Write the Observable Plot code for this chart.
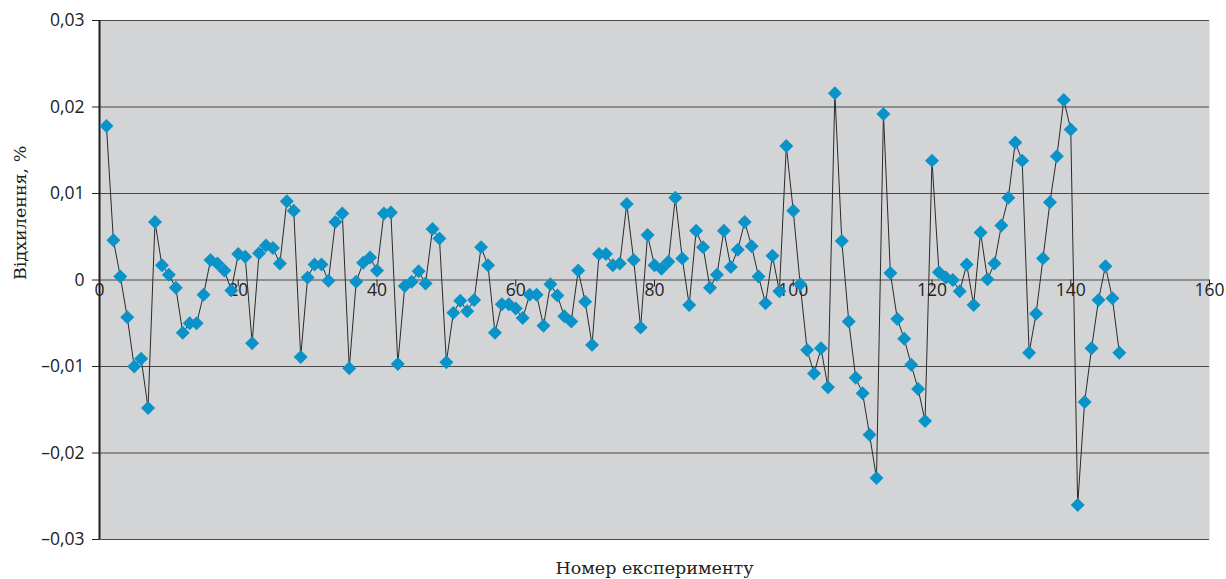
<!DOCTYPE html>
<html>
<head>
<meta charset="utf-8">
<script src="https://cdn.jsdelivr.net/npm/d3@7"></script>
<script src="https://cdn.jsdelivr.net/npm/@observablehq/plot@0.6"></script>
<style>
  html, body { margin: 0; padding: 0; background: #ffffff; }
  #chart svg { display: block; }
</style>
</head>
<body>
<div id="chart"></div>
<script>
// Deviation values for experiments 1..147
const deviations = [
  0.0178, 0.0046, 0.0004, -0.0043, -0.0100, -0.0091, -0.0148, 0.0067, 0.0017, 0.0006,
  -0.0009, -0.0061, -0.0050, -0.0050, -0.0017, 0.0023, 0.0019, 0.0011, -0.0012, 0.0030,
  0.0027, -0.0073, 0.0031, 0.0040, 0.0037, 0.0019, 0.0091, 0.0080, -0.0089, 0.0003,
  0.0018, 0.0018, -0.0001, 0.0067, 0.0077, -0.0102, -0.0002, 0.0020, 0.0026, 0.0011,
  0.0077, 0.0078, -0.0097, -0.0007, -0.0002, 0.0010, -0.0004, 0.0059, 0.0048, -0.0095,
  -0.0038, -0.0024, -0.0036, -0.0023, 0.0038, 0.0017, -0.0061, -0.0028, -0.0028, -0.0033,
  -0.0044, -0.0017, -0.0017, -0.0053, -0.0005, -0.0018, -0.0042, -0.0048, 0.0011, -0.0025,
  -0.0075, 0.0030, 0.0030, 0.0017, 0.0019, 0.0088, 0.0023, -0.0055, 0.0052, 0.0017,
  0.0013, 0.0021, 0.0095, 0.0025, -0.0029, 0.0057, 0.0038, -0.0009, 0.0006, 0.0057,
  0.0015, 0.0035, 0.0067, 0.0039, 0.0004, -0.0027, 0.0028, -0.0013, 0.0155, 0.0080,
  -0.0005, -0.0081, -0.0108, -0.0079, -0.0124, 0.0216, 0.0045, -0.0048, -0.0113, -0.0131,
  -0.0179, -0.0229, 0.0192, 0.0008, -0.0045, -0.0068, -0.0098, -0.0126, -0.0163, 0.0138,
  0.0009, 0.0003, 0.0000, -0.0013, 0.0018, -0.0029, 0.0055, 0.0001, 0.0019, 0.0063,
  0.0095, 0.0159, 0.0138, -0.0084, -0.0039, 0.0025, 0.0090, 0.0143, 0.0208, 0.0174,
  -0.0260, -0.0141, -0.0079, -0.0023, 0.0016, -0.0021, -0.0084
];

const xTicks = [0, 20, 40, 60, 80, 100, 120, 140, 160];
const xTickLabels = ["0", "20", "40", "60", "80", "100", "120", "140", "160"];
const yTicks = [-0.03, -0.02, -0.01, 0, 0.01, 0.02, 0.03];
const yTickLabels = ["–0,03", "–0,02", "–0,01", "0", "0,01", "0,02", "0,03"];

const xTitle = "Номер експерименту";
const yTitle = "Відхилення, %";

const data = deviations.map((v, i) => ({experiment: i + 1, value: v}));

const tickFont = "'Open Sans', 'DejaVu Sans', sans-serif";
const titleFont = "'DejaVu Serif', 'Liberation Serif', serif";

const chart = Plot.plot({
  width: 1226,
  height: 579,
  marginLeft: 99,
  marginRight: 17,
  marginTop: 20,
  marginBottom: 40,
  style: {fontFamily: tickFont, background: "#ffffff"},
  x: {domain: [0, 160], axis: null},
  y: {domain: [-0.03, 0.03], axis: null},
  marks: [
    Plot.frame({fill: "#d3d4d6", stroke: null}),
    Plot.ruleY(yTicks, {y: d => d, stroke: "#4a4a4a", strokeWidth: 1}),
    Plot.ruleX([0], {x: d => d, stroke: "#1e1e1e", strokeWidth: 2}),
    Plot.axisY(yTicks, {
      anchor: "left",
      label: null,
      tickSize: 7,
      tickPadding: 8,
      fontSize: 17.5,
      stroke: "#222222",
      fill: "#222222",
      tickFormat: d => yTickLabels[yTicks.indexOf(d)]
    }),
    Plot.ruleX(xTicks.slice(1), {x: d => d, y1: 0, y2: -0.0008, stroke: "#222222"}),
    Plot.text(xTicks, {
      x: d => d,
      y: 0,
      text: d => xTickLabels[xTicks.indexOf(d)],
      dy: 10,
      lineAnchor: "middle",
      fontSize: 17.5,
      fill: "#222222",
      letterSpacing: "2px"
    }),
    Plot.line(data, {x: "experiment", y: "value", stroke: "#2a2a2a", strokeWidth: 1}),
    Plot.dot(data, {x: "experiment", y: "value", symbol: "diamond2", r: 6.3, fill: "#0a93c8", stroke: "none"}),
    Plot.text([xTitle], {
      frameAnchor: "bottom",
      dy: 29,
      lineAnchor: "middle",
      fontSize: 17.5,
      fontFamily: titleFont,
      fill: "#222222"
    }),
    Plot.text([yTitle], {
      frameAnchor: "left",
      dx: -79,
      rotate: -90,
      lineAnchor: "middle",
      fontSize: 17.5,
      fontFamily: titleFont,
      fill: "#222222"
    })
  ]
});

document.getElementById("chart").appendChild(chart);
</script>
</body>
</html>
